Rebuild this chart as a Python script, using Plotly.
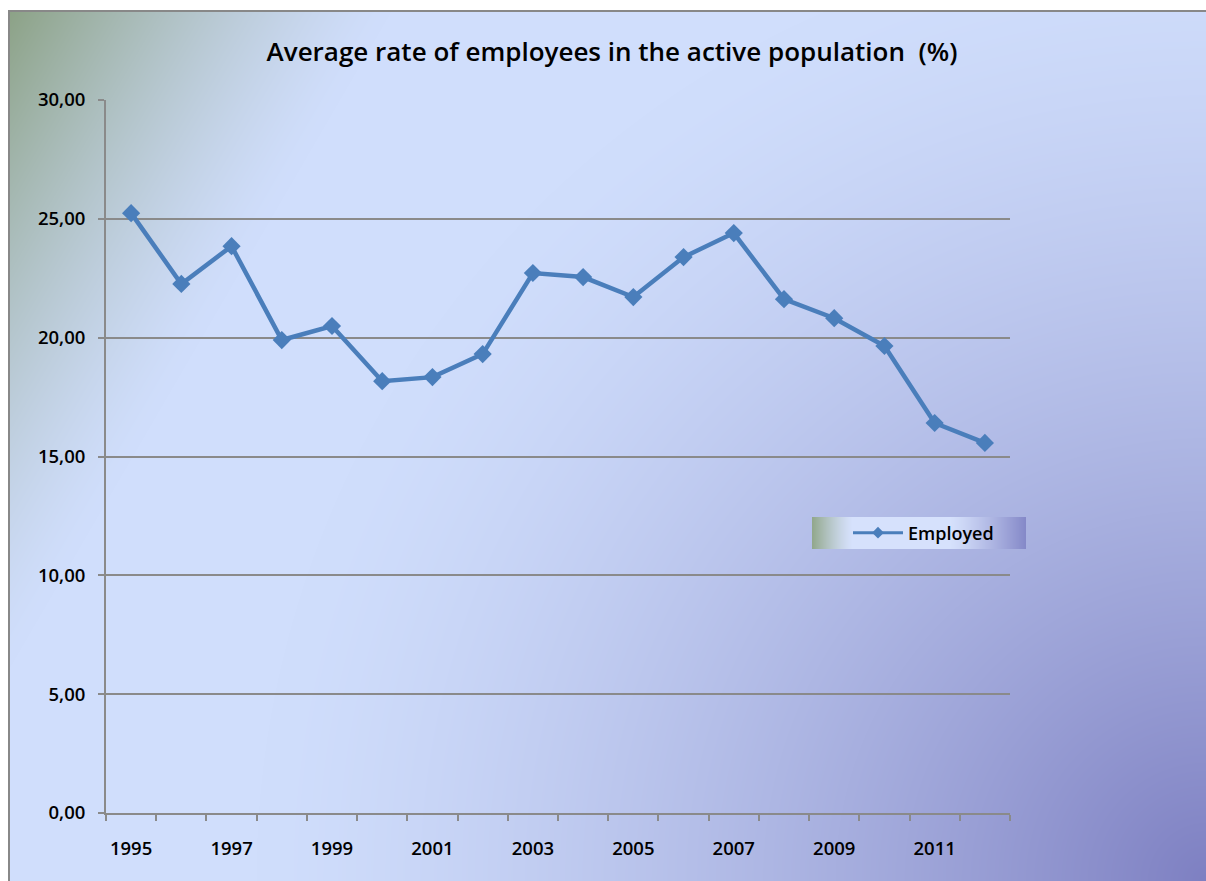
import base64
import struct
import zlib

import numpy as np
import plotly.graph_objects as go

# ---- data -------------------------------------------------------------
years = list(range(1995, 2013))
employed = [25.24, 22.26, 23.85, 19.90, 20.49, 18.17, 18.34, 19.31, 22.72,
            22.55, 21.71, 23.39, 24.40, 21.62, 20.82, 19.65, 16.41, 15.57]
year_labels = [str(y) for y in years[::2]]
y_ticks = [0, 5, 10, 15, 20, 25, 30]

TITLE = "Average rate of employees in the active population  (%)"
SERIES = "Employed"

# ---- canvas geometry ---------------------------------------------------
W, H = 1206, 881
L, R, T, B = 106, 196, 100, 68
PW, PH = W - L - R, H - T - B

LINE_BLUE = "#4A7EBB"
GRID = "#8A8A8A"
FONT = "Open Sans"


def png_data_uri(img):
    """Encode an HxWx3 uint8 array as a PNG data URI (Up filter + zlib)."""
    h, w, _ = img.shape
    a = img.astype(np.int16)
    up = np.empty_like(a)
    up[0] = a[0]
    up[1:] = a[1:] - a[:-1]
    rows = (up % 256).astype(np.uint8).reshape(h, w * 3)
    rows = np.concatenate([np.full((h, 1), 2, np.uint8), rows], axis=1)

    def chunk(tag, data):
        return (struct.pack(">I", len(data)) + tag + data
                + struct.pack(">I", zlib.crc32(tag + data) & 0xFFFFFFFF))

    png = (b"\x89PNG\r\n\x1a\n"
           + chunk(b"IHDR", struct.pack(">IIBBBBB", w, h, 8, 2, 0, 0, 0))
           + chunk(b"IDAT", zlib.compress(rows.tobytes(), 9))
           + chunk(b"IEND", b""))
    return "data:image/png;base64," + base64.b64encode(png).decode()


def chart_background():
    yy, xx = np.mgrid[0:H, 0:W].astype(float)
    base = np.array([208, 222, 252], float)
    green = np.array([140, 162, 134], float)
    purple = np.array([126, 128, 194], float)

    # greenish wash from the top-left corner
    s = (xx - 8) * 0.86 + (yy - 10) * 0.50
    tg = np.clip(1 - s / 330.0, 0, 1) ** 1.35
    # purple radial glow from the bottom-right corner
    d = np.hypot(xx - W, yy - H)
    tp = np.clip(1 - d / 950.0, 0, 1) ** 1.4

    img = (base
           + (green - base) * tg[..., None]
           + (purple - base) * tp[..., None])

    # legend box with its own left-to-right gradient
    lx0, lx1, ly0, ly1 = 812, 1026, 517, 549
    lx = np.arange(lx0, lx1, dtype=float)
    light = np.array([214, 225, 252], float)
    fl = np.clip(1 - (lx - lx0) / 40.0, 0, 1) ** 1.3
    fr = np.clip((lx - 950) / (lx1 - 950.0), 0, 1) ** 1.2
    band = (light
            + (np.array([146, 168, 140]) - light) * fl[:, None]
            + (np.array([132, 136, 200]) - light) * fr[:, None])
    img[ly0:ly1, lx0:lx1] = band[None, :, :]

    # outer frame: white margin + grey top/left border
    img[:10, :] = 255
    img[:, :8] = 255
    img[10:12, 8:] = [136, 136, 136]
    img[10:, 8:10] = [136, 136, 136]
    return np.clip(img, 0, 255).astype(np.uint8)


fig = go.Figure()

fig.add_trace(go.Scatter(
    x=years, y=employed, mode="lines+markers", name=SERIES,
    showlegend=False, hoverinfo="x+y",
    line=dict(color=LINE_BLUE, width=4.5),
    marker=dict(symbol="diamond", size=14, color=LINE_BLUE),
))
# legend entry with a smaller marker
fig.add_trace(go.Scatter(
    x=[None], y=[None], mode="lines+markers", name=SERIES,
    line=dict(color=LINE_BLUE, width=3),
    marker=dict(symbol="diamond", size=9, color=LINE_BLUE),
))

fig.add_layout_image(dict(
    source=png_data_uri(chart_background()),
    xref="paper", yref="paper",
    x=-L / PW, y=1 + T / PH, sizex=W / PW, sizey=H / PH,
    xanchor="left", yanchor="top", sizing="stretch", layer="below",
))

TICK_FONT = dict(family=FONT, size=18.5, weight=600, color="#000000")

fig.update_layout(
    width=W, height=H,
    margin=dict(l=L, r=R, t=T, b=B),
    paper_bgcolor="white",
    plot_bgcolor="rgba(0,0,0,0)",
    separators=",.",
    font=dict(family=FONT, color="#000000"),
    title=dict(text=TITLE, x=(612 - L) / PW, xref="paper", xanchor="center",
               y=1 - 52 / H, yanchor="middle",
               font=dict(family=FONT, size=26, weight=600, color="#000000")),
    showlegend=True,
    legend=dict(x=(848 - L) / PW, y=(H - B - 533) / PH, xanchor="left",
                yanchor="middle", bgcolor="rgba(0,0,0,0)", borderwidth=0,
                font=dict(family=FONT, size=18, weight=600),
                itemwidth=50),
    xaxis=dict(
        range=[years[0] - 0.5, years[-1] + 0.5],
        tickmode="array", tickvals=years[::2], ticktext=year_labels,
        ticks="", showgrid=False, zeroline=False,
        showline=True, linecolor=GRID, linewidth=2,
        ticklabelstandoff=18,
        tickfont=TICK_FONT,
        minor=dict(tickmode="array",
                   tickvals=[y - 0.5 for y in years] + [years[-1] + 0.5],
                   ticks="outside", ticklen=6, tickwidth=1.5, tickcolor=GRID,
                   showgrid=False),
        fixedrange=True,
    ),
    yaxis=dict(
        range=[0, 30], tickmode="array", tickvals=y_ticks, tickformat=".2f",
        ticks="outside", ticklen=6, tickwidth=1.5, tickcolor=GRID,
        showgrid=True, gridcolor=GRID, gridwidth=1.5,
        zeroline=False, showline=True, linecolor=GRID, linewidth=2,
        ticklabelstandoff=9,
        tickfont=TICK_FONT,
        fixedrange=True,
    ),
)

fig.write_html("out.html", config={"displayModeBar": False})
